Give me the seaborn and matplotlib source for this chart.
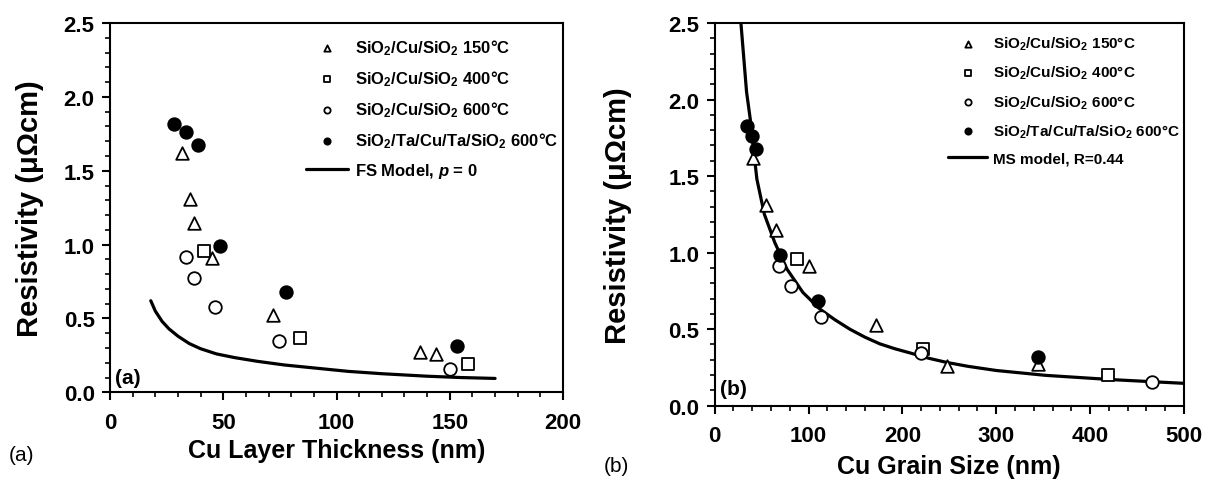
import matplotlib
matplotlib.use("Agg")
import seaborn as sns
from matplotlib import pyplot as plt
from matplotlib.ticker import MultipleLocator, FormatStrFormatter

# ---- data ----
# (a) resistivity vs Cu layer thickness
thk_150_x = [31.7, 35.1, 37.1, 45.2, 71.8, 137.0, 144.1]
thk_150_y = [1.62, 1.31, 1.145, 0.907, 0.523, 0.275, 0.257]
thk_400_x = [41.7, 83.7, 158.1]
thk_400_y = [0.955, 0.366, 0.194]
thk_600_x = [33.5, 37.0, 46.3, 74.6, 149.9]
thk_600_y = [0.918, 0.776, 0.578, 0.345, 0.158]
thk_ta_x = [28.3, 33.6, 38.8, 48.4, 77.9, 153.4]
thk_ta_y = [1.817, 1.76, 1.676, 0.988, 0.681, 0.316]
fs_x = [18, 20, 23, 26, 30, 35, 40, 47, 55, 65, 77, 90, 105, 120, 140, 155, 170]
fs_y = [0.62, 0.55, 0.48, 0.43, 0.38, 0.33, 0.295, 0.26, 0.235, 0.21, 0.185,
        0.165, 0.142, 0.126, 0.109, 0.1, 0.094]

# (b) resistivity vs Cu grain size
gs_150_x = [41, 54.2, 64.9, 100.6, 172.3, 247.9, 344.7]
gs_150_y = [1.62, 1.31, 1.147, 0.91, 0.53, 0.257, 0.27]
gs_400_x = [87.9, 221.9, 419]
gs_400_y = [0.958, 0.37, 0.2]
gs_600_x = [68.4, 81.2, 112.8, 219.8, 466]
gs_600_y = [0.915, 0.78, 0.577, 0.344, 0.157]
gs_ta_x = [34, 39.4, 43.9, 69.5, 109.6, 345]
gs_ta_y = [1.83, 1.764, 1.677, 0.984, 0.682, 0.32]
ms_x = [28, 34, 38, 41, 45, 53, 64, 77, 94, 112, 128, 144, 160, 176, 192, 208,
        228, 247, 270, 300, 353, 424, 500]
ms_y = [2.5, 2.05, 1.87, 1.70, 1.48, 1.25, 1.067, 0.893, 0.74, 0.632, 0.562, 0.50,
        0.448, 0.404, 0.372, 0.345, 0.31, 0.283, 0.257, 0.23, 0.198, 0.17, 0.146]

labels = ["SiO$_2$/Cu/SiO$_2$ 150°C",
          "SiO$_2$/Cu/SiO$_2$ 400°C",
          "SiO$_2$/Cu/SiO$_2$ 600°C",
          "SiO$_2$/Ta/Cu/Ta/SiO$_2$ 600°C"]
markers = ["^", "s", "o", "o"]
faces = ["white", "white", "white", "black"]

sns.set_style("ticks")
plt.rcParams["font.family"] = ["Liberation Sans", "DejaVu Sans"]
plt.rcParams["font.weight"] = "bold"
plt.rcParams["text.color"] = "black"
plt.rcParams["axes.labelcolor"] = "black"
plt.rcParams["mathtext.fontset"] = "custom"
plt.rcParams["mathtext.rm"] = "Liberation Sans:bold"
plt.rcParams["mathtext.bf"] = "Liberation Sans:bold"
plt.rcParams["mathtext.it"] = "Liberation Sans:bold:italic"
plt.rcParams["axes.linewidth"] = 1.5
for ax_ in ("xtick", "ytick"):
    plt.rcParams[f"{ax_}.direction"] = "out"
    plt.rcParams[f"{ax_}.major.size"] = 6
    plt.rcParams[f"{ax_}.minor.size"] = 3.5
    plt.rcParams[f"{ax_}.major.width"] = 1.5
    plt.rcParams[f"{ax_}.minor.width"] = 1.2
    plt.rcParams[f"{ax_}.color"] = "black"
    plt.rcParams[f"{ax_}.labelcolor"] = "black"

fig = plt.figure(figsize=(12.09, 4.81), dpi=100)
ax1 = fig.add_axes([0.091, 0.1823, 0.3747, 0.7677])
ax2 = fig.add_axes([0.5911, 0.1545, 0.3882, 0.7955])


def draw_panel(ax, series, line_x, line_y, line_label):
    for (xs, ys), lab, mk, fc in zip(series, labels, markers, faces):
        sns.scatterplot(x=xs, y=ys, ax=ax, marker=mk, s=82, color=fc,
                        edgecolor="black", linewidth=1.3, label=lab, zorder=3)
    sns.lineplot(x=line_x, y=line_y, ax=ax, color="black", linewidth=2.3,
                 label=line_label, sort=False, estimator=None, zorder=2)


draw_panel(ax1, [(thk_150_x, thk_150_y), (thk_400_x, thk_400_y),
                 (thk_600_x, thk_600_y), (thk_ta_x, thk_ta_y)],
           fs_x, fs_y, r"FS Model, $p$ = 0")
draw_panel(ax2, [(gs_150_x, gs_150_y), (gs_400_x, gs_400_y),
                 (gs_600_x, gs_600_y), (gs_ta_x, gs_ta_y)],
           ms_x, ms_y, "MS model, R=0.44")

ax1.set_xlim(0, 200)
ax1.xaxis.set_major_locator(MultipleLocator(50))
ax1.xaxis.set_minor_locator(MultipleLocator(10))
ax2.set_xlim(0, 500)
ax2.xaxis.set_major_locator(MultipleLocator(100))
ax2.xaxis.set_minor_locator(MultipleLocator(20))

for ax, lpad in ((ax1, 14), (ax2, 26)):
    ax.set_ylim(0, 2.5)
    ax.yaxis.set_major_locator(MultipleLocator(0.5))
    ax.yaxis.set_minor_locator(MultipleLocator(0.1))
    ax.yaxis.set_major_formatter(FormatStrFormatter("%.1f"))
    ax.tick_params(axis="y", labelsize=16, pad=5)
    ax.tick_params(axis="x", labelsize=16, pad=8)
    for t in ax.get_xticklabels() + ax.get_yticklabels():
        t.set_fontweight("bold")
    ax.set_ylabel("Resistivity (μΩcm)", fontsize=21, fontweight="bold", labelpad=lpad)
    for sp in ax.spines.values():
        sp.set_color("black")

ax1.set_xlabel("Cu Layer Thickness (nm)", fontsize=18, fontweight="bold", labelpad=4)
ax2.set_xlabel("Cu Grain Size (nm)", fontsize=18, fontweight="bold", labelpad=6)

ax1.legend(loc="upper left", bbox_to_anchor=(0.415, 0.985), frameon=False,
           fontsize=12, markerscale=0.5, handlelength=2.5, handletextpad=0.4,
           labelspacing=0.68, borderpad=0)
ax2.legend(loc="upper left", bbox_to_anchor=(0.482, 0.99), frameon=False,
           fontsize=11, markerscale=0.5, handlelength=2.5, handletextpad=0.4,
           labelspacing=0.78, borderpad=0)

ax1.text(0.012, 0.04, "(a)", transform=ax1.transAxes, fontsize=15,
         fontweight="bold", va="center", ha="left")
ax2.text(0.012, 0.044, "(b)", transform=ax2.transAxes, fontsize=15,
         fontweight="bold", va="center", ha="left")
fig.text(0.007, 0.054, "(a)", fontsize=15, fontweight="normal", va="center")
fig.text(0.499, 0.03, "(b)", fontsize=15, fontweight="normal", va="center")

fig.savefig("out.png", dpi=100)
